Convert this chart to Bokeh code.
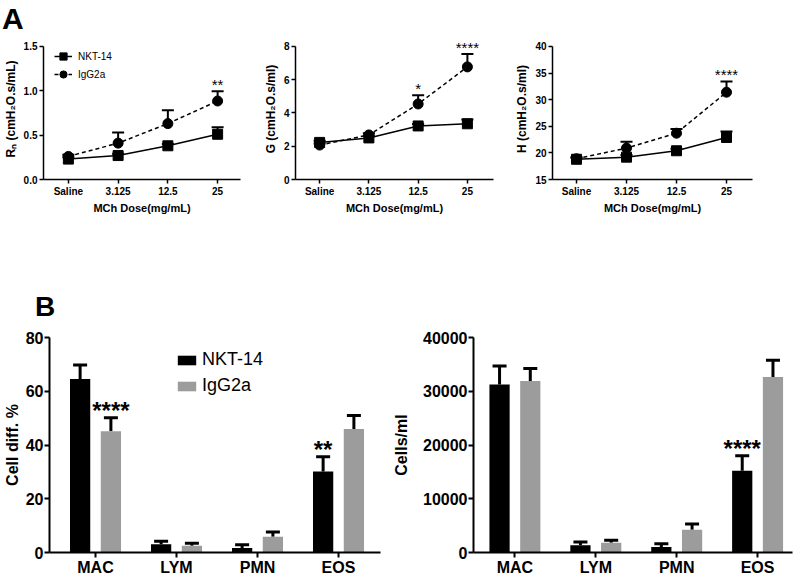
import numpy as np
from bokeh.plotting import figure
from bokeh.models import (ColumnDataSource, Whisker, TeeHead, Legend, LegendItem,
                          FixedTicker, Div, Spacer, Range1d)
from bokeh.layouts import row, column
from bokeh.embed import file_html
from bokeh.resources import INLINE
from bokeh.core.properties import value

FONT = "Liberation Sans"

# ------------------------------------------------------------------ data
doses = ["Saline", "3.125", "12.5", "25"]
groups = ["NKT-14", "IgG2a"]

rn_nkt = [0.23, 0.27, 0.38, 0.51]
rn_nkt_err = [0.02, 0.02, 0.02, 0.08]
rn_igg = [0.26, 0.41, 0.63, 0.885]
rn_igg_err = [0.02, 0.12, 0.15, 0.11]
rn_sig = ["", "", "", "**"]
rn_yticks = [0.0, 0.5, 1.0, 1.5]
rn_ylabels = ["0.0", "0.5", "1.0", "1.5"]

g_nkt = [2.23, 2.5, 3.22, 3.35]
g_nkt_err = [0.1, 0.1, 0.12, 0.25]
g_igg = [2.07, 2.68, 4.54, 6.77]
g_igg_err = [0.1, 0.1, 0.53, 0.77]
g_sig = ["", "", "*", "****"]
g_yticks = [0, 2, 4, 6, 8]
g_ylabels = ["0", "2", "4", "6", "8"]

h_nkt = [18.8, 19.2, 20.4, 22.9]
h_nkt_err = [0.3, 0.4, 0.4, 1.1]
h_igg = [18.9, 20.9, 23.7, 31.4]
h_igg_err = [0.3, 1.2, 0.8, 2.0]
h_sig = ["", "", "", "****"]
h_yticks = [15, 20, 25, 30, 35, 40]
h_ylabels = ["15", "20", "25", "30", "35", "40"]

cells = ["MAC", "LYM", "PMN", "EOS"]
diff_nkt = [64.6, 3.1, 1.7, 30.1]
diff_nkt_err = [5.2, 1.1, 1.2, 5.5]
diff_igg = [45.1, 2.5, 5.9, 46.0]
diff_igg_err = [5.0, 0.9, 1.7, 5.0]
diff_sig_nkt = ["", "", "", "**"]
diff_sig_igg = ["****", "", "", ""]
diff_yticks = [0, 20, 40, 60, 80]

cnt_nkt = [31250, 1340, 1040, 15230]
cnt_nkt_err = [3450, 620, 610, 2750]
cnt_igg = [31900, 1830, 4220, 32660]
cnt_igg_err = [2350, 430, 1100, 3120]
cnt_sig_nkt = ["", "", "", "****"]
cnt_sig_igg = ["", "", "", ""]
cnt_yticks = [0, 10000, 20000, 30000, 40000]

GRAY = "#9c9c9c"


def style_axes(p, tick_font, label_font, line_w, tick_len):
    for ax in (p.xaxis[0], p.yaxis[0]):
        ax.axis_line_width = line_w
        ax.axis_line_color = "black"
        ax.major_tick_line_width = line_w
        ax.major_tick_line_color = "black"
        ax.major_tick_in = 0
        ax.major_tick_out = tick_len
        ax.minor_tick_line_color = None
        ax.major_label_text_font = FONT
        ax.major_label_text_font_style = "bold"
        ax.major_label_text_color = "black"
        ax.axis_label_text_font = FONT
        ax.axis_label_text_font_style = "bold"
        ax.axis_label_text_color = "black"
        ax.axis_label_text_font_size = label_font
        ax.major_label_text_font_size = tick_font
    p.xgrid.visible = False
    p.ygrid.visible = False
    p.outline_line_color = None


def a_panel(ylabel, nkt, nkt_err, igg, igg_err, sig, yticks, ylabels,
            lb, fw, rb, x0, legend=False):
    fh, tick_px = 142, 134
    y0, y1 = yticks[0], yticks[-1]
    y_end = y1 + (y1 - y0) * (fh - tick_px) / tick_px
    p = figure(width=lb + fw + rb, height=fh + 36,
               x_range=Range1d(x0, x0 + fw / 50.0), y_range=Range1d(y0, y_end),
               output_backend="svg", toolbar_location=None,
               min_border_left=lb, min_border_right=rb,
               min_border_top=0, min_border_bottom=36)
    xs = list(range(len(doses)))
    ln = p.line(xs, nkt, line_color="black", line_width=1.5)
    sn = p.scatter(xs, nkt, marker="square", size=10, color="black")
    li = p.line(xs, igg, line_color="black", line_width=1.5, line_dash="4 3")
    si = p.scatter(xs, igg, marker="circle", size=10, color="black")
    for m, e in ((nkt, nkt_err), (igg, igg_err)):
        src = ColumnDataSource(dict(x=xs, lo=m, up=[a + b for a, b in zip(m, e)]))
        p.add_layout(Whisker(source=src, base="x", lower="lo", upper="up",
                             dimension="height", line_color="black", line_width=2,
                             upper_head=TeeHead(size=12, line_width=2, line_color="black"),
                             lower_head=None))
    caps = [max(a + b, c + d) for a, b, c, d in zip(nkt, nkt_err, igg, igg_err)]
    p.text(x=xs, y=caps, text=sig, text_font=value(FONT), text_font_size="15px",
           text_align="center", text_baseline="alphabetic", text_color="black",
           y_offset=-7)
    p.xaxis.ticker = FixedTicker(ticks=xs)
    p.xaxis.major_label_overrides = {i: d for i, d in enumerate(doses)}
    p.yaxis.ticker = FixedTicker(ticks=yticks)
    p.yaxis.major_label_overrides = {t: l for t, l in zip(yticks, ylabels)}
    p.yaxis.bounds = (y0, y1)
    p.xaxis.axis_label = "MCh Dose(mg/mL)"
    p.yaxis.axis_label = ylabel
    style_axes(p, "10px", "11px", 1.5, 4)
    p.yaxis.axis_label_text_font_size = "12px"
    p.xaxis.major_label_standoff = 2
    p.xaxis.axis_label_standoff = 2
    p.yaxis.major_label_standoff = 2
    p.yaxis.axis_label_standoff = 3
    if legend:
        lg = Legend(items=[LegendItem(label=groups[0], renderers=[ln, sn]),
                           LegendItem(label=groups[1], renderers=[li, si])],
                    location=(11, 96), orientation="vertical",
                    glyph_width=18, glyph_height=18, label_height=12, spacing=-2,
                    padding=0, margin=0, label_standoff=6,
                    label_text_font=FONT, label_text_font_size="10px",
                    label_text_color="black",
                    border_line_color=None, background_fill_alpha=0)
        p.add_layout(lg)
    return p


def b_panel(ylabel, nkt, nkt_err, igg, igg_err, sig_n, sig_i, yticks,
            lb, rb, fw, x0, ppu, label_standoff, legend=False):
    fh = 216
    p = figure(width=lb + fw + rb, height=17 + fh + 25,
               x_range=Range1d(x0, x0 + fw / ppu), y_range=Range1d(yticks[0], yticks[-1]),
               output_backend="svg", toolbar_location=None,
               min_border_left=lb, min_border_right=rb,
               min_border_top=17, min_border_bottom=25)
    xs = np.arange(len(cells))
    xn = xs - 0.19
    xi = xs + 0.19
    bn = p.vbar(x=xn, top=nkt, width=0.25, fill_color="black", line_color=None)
    bi = p.vbar(x=xi, top=igg, width=0.25, fill_color=GRAY, line_color=None)
    for xx, m, e, s in ((xn, nkt, nkt_err, sig_n), (xi, igg, igg_err, sig_i)):
        up = [a + b for a, b in zip(m, e)]
        src = ColumnDataSource(dict(x=xx, lo=m, up=up))
        p.add_layout(Whisker(source=src, base="x", lower="lo", upper="up",
                             dimension="height", line_color="black", line_width=3,
                             upper_head=TeeHead(size=14, line_width=3, line_color="black"),
                             lower_head=None))
        p.text(x=xx, y=up, text=s, text_font=value(FONT), text_font_size="24px",
               text_font_style="bold",
               text_align="center", text_baseline="alphabetic", text_color="black",
               y_offset=-7)
    p.xaxis.ticker = FixedTicker(ticks=list(xs))
    p.xaxis.major_label_overrides = {int(i): c for i, c in zip(xs, cells)}
    p.yaxis.ticker = FixedTicker(ticks=yticks)
    p.yaxis.axis_label = ylabel
    style_axes(p, "16px", "16px", 2, 5)
    p.xaxis.major_label_standoff = 1
    p.yaxis.major_label_standoff = 1
    p.yaxis.axis_label_standoff = label_standoff
    if legend:
        lg = Legend(items=[LegendItem(label=groups[0], renderers=[bn]),
                           LegendItem(label=groups[1], renderers=[bi])],
                    location=(126, 156), orientation="vertical",
                    glyph_width=23, glyph_height=12, label_height=20, spacing=5,
                    padding=0, margin=0, label_standoff=4,
                    label_text_font=FONT, label_text_font_size="18px",
                    label_text_color="black",
                    border_line_color=None, background_fill_alpha=0)
        p.add_layout(lg)
    return p


pa1 = a_panel("Rₙ (cmH₂O.s/mL)", rn_nkt, rn_nkt_err, rn_igg, rn_igg_err, rn_sig,
              rn_yticks, rn_ylabels, 42, 198, 20, -0.5, legend=True)
pa2 = a_panel("G (cmH₂O.s/ml)", g_nkt, g_nkt_err, g_igg, g_igg_err, g_sig,
              g_yticks, g_ylabels, 32, 201, 17, -0.49)
pa3 = a_panel("H (cmH₂O.s/ml)", h_nkt, h_nkt_err, h_igg, h_igg_err, h_sig,
              h_yticks, h_ylabels, 42, 200, 48, -0.48)

pb1 = b_panel("Cell diff. %", diff_nkt, diff_nkt_err, diff_igg, diff_igg_err,
              diff_sig_nkt, diff_sig_igg, diff_yticks, 49, 10, 331, -0.568, 81.0, 2,
              legend=True)
pb2 = b_panel("Cells/ml", cnt_nkt, cnt_nkt_err, cnt_igg, cnt_igg_err,
              cnt_sig_nkt, cnt_sig_igg, cnt_yticks, 81, 8, 321, -0.512, 81.4, 10)

div_a = Div(text='<div style="font-family:\'Liberation Sans\',Arial,sans-serif;'
                 'font-weight:bold;font-size:30px;line-height:38px;margin-left:2px;">A</div>',
            width=800, height=38, margin=0)
div_b = Div(text='<div style="font-family:\'Liberation Sans\',Arial,sans-serif;'
                 'font-weight:bold;font-size:28px;line-height:27px;padding-top:13px;'
                 'margin-left:35px;">B</div>',
            width=800, height=40, margin=0)

layout = column(div_a, row(pa1, pa2, pa3, spacing=0), Spacer(width=800, height=64),
                div_b, row(pb1, pb2, spacing=0), spacing=0)

open("out.html", "w").write(file_html(layout, INLINE))
